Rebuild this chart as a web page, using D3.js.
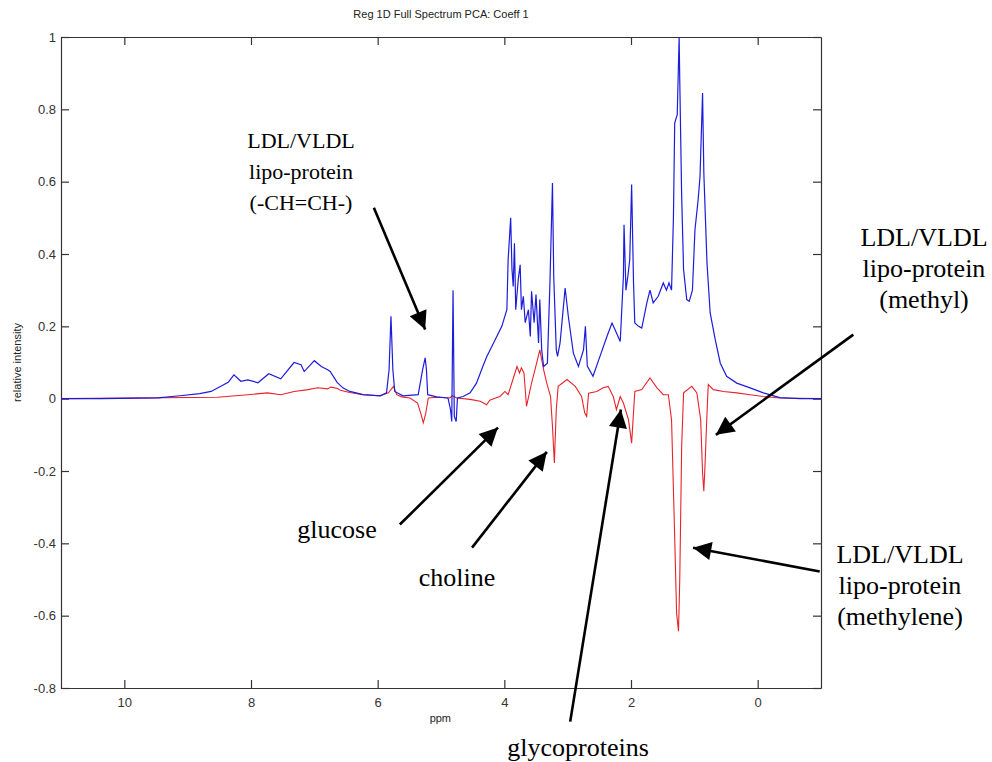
<!DOCTYPE html>
<html>
<head>
<meta charset="utf-8">
<script src="https://cdn.jsdelivr.net/npm/d3@7"></script>
<style>
  body { margin: 0; background: #fff; }
  .tick text { font-family: "Liberation Sans", Arial, sans-serif; font-size: 13px; fill: #333; }
  .note { font-family: "Liberation Serif", "Times New Roman", serif; fill: #000; }
</style>
</head>
<body>
<div id="graph"></div>
<script>
// spectrum: ppm and relative intensity
const bluePpm = [11.00, 10.38, 9.47, 9.12, 8.81, 8.63, 8.36, 8.27, 8.16, 8.05, 7.89, 7.72, 7.53, 7.32, 7.21, 7.16, 7.00, 6.89, 6.79, 6.75,
  6.64, 6.55, 6.44, 6.23, 5.96, 5.86, 5.82, 5.79, 5.76, 5.73, 5.60, 5.36, 5.29, 5.25, 5.23, 5.21, 5.07, 4.89, 4.85, 4.83,
  4.81, 4.79, 4.76, 4.74, 4.65, 4.54, 4.44, 4.34, 4.28, 4.17, 4.04, 3.96, 3.94, 3.90, 3.88, 3.86, 3.84, 3.82, 3.78, 3.75,
  3.73, 3.70, 3.67, 3.62, 3.59, 3.57, 3.53, 3.50, 3.46, 3.44, 3.41, 3.38, 3.32, 3.28, 3.24, 3.22, 3.18, 3.16, 3.12, 3.04,
  2.99, 2.91, 2.83, 2.75, 2.72, 2.69, 2.60, 2.49, 2.38, 2.30, 2.25, 2.17, 2.12, 2.11, 2.08, 2.05, 2.02, 1.99, 1.96, 1.94,
  1.88, 1.83, 1.75, 1.70, 1.65, 1.57, 1.49, 1.44, 1.40, 1.36, 1.33, 1.31, 1.27, 1.24, 1.23, 1.20, 1.17, 1.12, 1.08, 1.03,
  0.99, 0.94, 0.91, 0.87, 0.85, 0.80, 0.75, 0.67, 0.59, 0.49, 0.33, 0.12, -0.09, -0.35, -0.67, -1.00];
const blueVal = [0, 0, 0.002, 0.008, 0.014, 0.02, 0.045, 0.066, 0.048, 0.052, 0.044, 0.069, 0.055, 0.10, 0.094, 0.075, 0.105, 0.089, 0.08, 0.075,
  0.045, 0.03, 0.02, 0.011, 0.008, 0.016, 0.08, 0.228, 0.08, 0.02, 0.008, 0.011, 0.08, 0.113, 0.08, 0.011, 0.005, 0.002, -0.03, -0.063,
  0.30, -0.049, -0.063, 0.002, 0.006, 0.016, 0.043, 0.089, 0.115, 0.154, 0.2, 0.246, 0.384, 0.5, 0.36, 0.31, 0.43, 0.246, 0.33, 0.37,
  0.246, 0.283, 0.21, 0.246, 0.172, 0.297, 0.21, 0.288, 0.154, 0.274, 0.135, 0.089, 0.098, 0.32, 0.596, 0.338, 0.135, 0.117, 0.154, 0.306,
  0.228, 0.126, 0.089, 0.135, 0.2, 0.09, 0.062, 0.117, 0.172, 0.209, 0.19, 0.158, 0.338, 0.481, 0.3, 0.338, 0.384, 0.592, 0.32, 0.209,
  0.2, 0.195, 0.265, 0.3, 0.265, 0.283, 0.32, 0.3, 0.32, 0.3, 0.5, 0.762, 0.785, 1.0, 0.88, 0.56, 0.357, 0.274, 0.269, 0.3,
  0.467, 0.55, 0.615, 0.845, 0.624, 0.375, 0.237, 0.163, 0.098, 0.062, 0.043, 0.03, 0.016, 0.003, 0, 0];

const redPpm = [11.00, 8.53, 8.05, 7.74, 7.53, 7.32, 7.10, 6.95, 6.79, 6.74, 6.63, 6.59, 6.44, 6.23, 5.96, 5.83, 5.75, 5.70, 5.62, 5.49,
  5.37, 5.32, 5.28, 5.24, 5.20, 5.07, 4.86, 4.82, 4.75, 4.54, 4.38, 4.28, 4.23, 4.17, 4.07, 3.99, 3.94, 3.80, 3.76, 3.73,
  3.69, 3.65, 3.57, 3.49, 3.44, 3.38, 3.33, 3.27, 3.24, 3.21, 3.18, 3.15, 3.01, 2.88, 2.78, 2.73, 2.70, 2.67, 2.54, 2.44,
  2.36, 2.28, 2.23, 2.17, 2.12, 2.04, 1.99, 1.94, 1.83, 1.70, 1.59, 1.49, 1.41, 1.36, 1.32, 1.28, 1.25, 1.23, 1.20, 1.17,
  1.04, 0.96, 0.90, 0.87, 0.85, 0.83, 0.80, 0.78, 0.70, 0.54, 0.33, 0.12, -0.09, -0.35, -1.00];
const redVal = [0, 0.004, 0.011, 0.016, 0.011, 0.02, 0.025, 0.03, 0.027, 0.032, 0.028, 0.023, 0.017, 0.011, 0.008, 0.016, 0.034, 0.011, 0.005, 0.002,
  -0.012, -0.04, -0.067, -0.04, 0.002, 0.004, 0.002, 0.008, 0.002, -0.002, -0.007, -0.017, -0.004, 0, 0.006, 0.02, 0.011, 0.089, 0.071, 0.085,
  0.071, -0.021, 0.043, 0.098, 0.135, 0.08, 0.043, 0.006, -0.077, -0.178, -0.03, 0.034, 0.053, 0.034, 0.006, -0.04, -0.049, 0.015, 0.02, 0.03,
  0.034, 0.006, -0.03, 0.006, -0.012, -0.058, -0.123, 0.02, 0.025, 0.057, 0.03, 0.011, 0.011, -0.058, -0.316, -0.593, -0.643, -0.5, -0.132, 0.016,
  0.034, 0.016, -0.058, -0.205, -0.256, -0.178, -0.04, 0.039, 0.025, 0.02, 0.016, 0.011, 0.006, 0.002, 0];

const xTicks = [10, 8, 6, 4, 2, 0];
const yTicks = [-0.8, -0.6, -0.4, -0.2, 0, 0.2, 0.4, 0.6, 0.8, 1];

// annotation arrows: [fromPpm, fromVal, tipPpm, tipVal]
const arrows = [
  [6.06, 0.528, 5.25, 0.191],
  [5.65, -0.348, 4.10, -0.080],
  [4.51, -0.412, 3.33, -0.147],
  [2.96, -0.893, 2.16, -0.030],
  [-1.51, 0.177, 0.66, -0.100],
  [-0.98, -0.478, 1.02, -0.412]
];

const width = 992, height = 762;
const margin = {top: 37, right: 171, bottom: 74, left: 61};
const w = width - margin.left - margin.right;
const h = height - margin.top - margin.bottom;

let svg = d3.select("#graph")
    .append("svg")
    .attr("width", width)
    .attr("height", height)
    .append("g")
    .attr("transform", `translate(${margin.left}, ${margin.top})`);

let x = d3.scaleLinear().domain([11, -1]).range([0, w]);
let y = d3.scaleLinear().domain([-0.8, 1]).range([h, 0]);

// box axes, ticks pointing inward like matlab
svg.append("g").attr("transform", `translate(0, ${h})`)
    .call(d3.axisBottom(x).tickValues(xTicks).tickSizeInner(-8).tickSizeOuter(0).tickPadding(10).tickFormat(d3.format("d")));
svg.append("g")
    .call(d3.axisTop(x).tickValues(xTicks).tickSizeInner(-8).tickSizeOuter(0).tickFormat(""));
svg.append("g")
    .call(d3.axisLeft(y).tickValues(yTicks).tickSizeInner(-8).tickSizeOuter(0).tickPadding(5).tickFormat(d => String(+d.toFixed(1))));
svg.append("g").attr("transform", `translate(${w}, 0)`)
    .call(d3.axisRight(y).tickValues(yTicks).tickSizeInner(-8).tickSizeOuter(0).tickFormat(""));
svg.selectAll(".domain, .tick line").attr("stroke", "#333").attr("stroke-width", 1.2);

let blue = bluePpm.map((p, i) => ({p: p, v: blueVal[i]}));
let red = redPpm.map((p, i) => ({p: p, v: redVal[i]}));
let line = d3.line().x(d => x(d.p)).y(d => y(d.v));

svg.append("path").datum(red)
    .attr("fill", "none").attr("stroke", "#e8232b").attr("stroke-width", 1.1)
    .attr("d", line);
svg.append("path").datum(blue)
    .attr("fill", "none").attr("stroke", "#1c1cdc").attr("stroke-width", 1.2)
    .attr("d", line);

// title + axis labels
svg.append("text")
    .attr("x", w / 2).attr("y", -19)
    .style("text-anchor", "middle")
    .style("font-family", "Liberation Sans, Arial, sans-serif")
    .style("font-size", "11px").style("fill", "#222")
    .text("Reg 1D Full Spectrum PCA: Coeff 1");

svg.append("text")
    .attr("transform", `translate(-40, ${y(0.1)}) rotate(-90)`)
    .style("text-anchor", "middle")
    .style("font-family", "Liberation Sans, Arial, sans-serif")
    .style("font-size", "11px").style("fill", "#222")
    .text("relative intensity");

svg.append("text")
    .attr("x", x(4) - 64).attr("y", h + 34)
    .style("text-anchor", "middle")
    .style("font-family", "Liberation Sans, Arial, sans-serif")
    .style("font-size", "11px").style("fill", "#222")
    .text("ppm");

// arrows
svg.append("defs").append("marker")
    .attr("id", "head")
    .attr("viewBox", "0 0 10 10")
    .attr("refX", 10).attr("refY", 5)
    .attr("markerWidth", 8).attr("markerHeight", 7)
    .attr("markerUnits", "strokeWidth")
    .attr("orient", "auto")
    .append("path").attr("d", "M0,0 L10,5 L0,10 z").attr("fill", "#000");

svg.selectAll(".arrow").data(arrows).enter()
    .append("line")
    .attr("class", "arrow")
    .attr("x1", d => x(d[0])).attr("y1", d => y(d[1]))
    .attr("x2", d => x(d[2])).attr("y2", d => y(d[3]))
    .attr("stroke", "#000").attr("stroke-width", 2.6)
    .attr("marker-end", "url(#head)");

// text notes (page coordinates)
const notes = [
  {x: 301, y: 148, size: 22, lines: ["LDL/VLDL", "lipo-protein", "(-CH=CH-)"]},
  {x: 924, y: 246, size: 26, lines: ["LDL/VLDL", "lipo-protein", "(methyl)"]},
  {x: 900, y: 563, size: 26, lines: ["LDL/VLDL", "lipo-protein", "(methylene)"]},
  {x: 337, y: 538, size: 26, lines: ["glucose"]},
  {x: 457, y: 586, size: 26, lines: ["choline"]},
  {x: 578, y: 756, size: 26, lines: ["glycoproteins"]}
];
let root = d3.select("#graph svg");
notes.forEach(function(n) {
    let t = root.append("text").attr("class", "note")
        .style("font-size", n.size + "px")
        .style("text-anchor", "middle");
    n.lines.forEach(function(s, i) {
        t.append("tspan").attr("x", n.x).attr("y", n.y + i * 31).text(s);
    });
});
</script>
</body>
</html>
